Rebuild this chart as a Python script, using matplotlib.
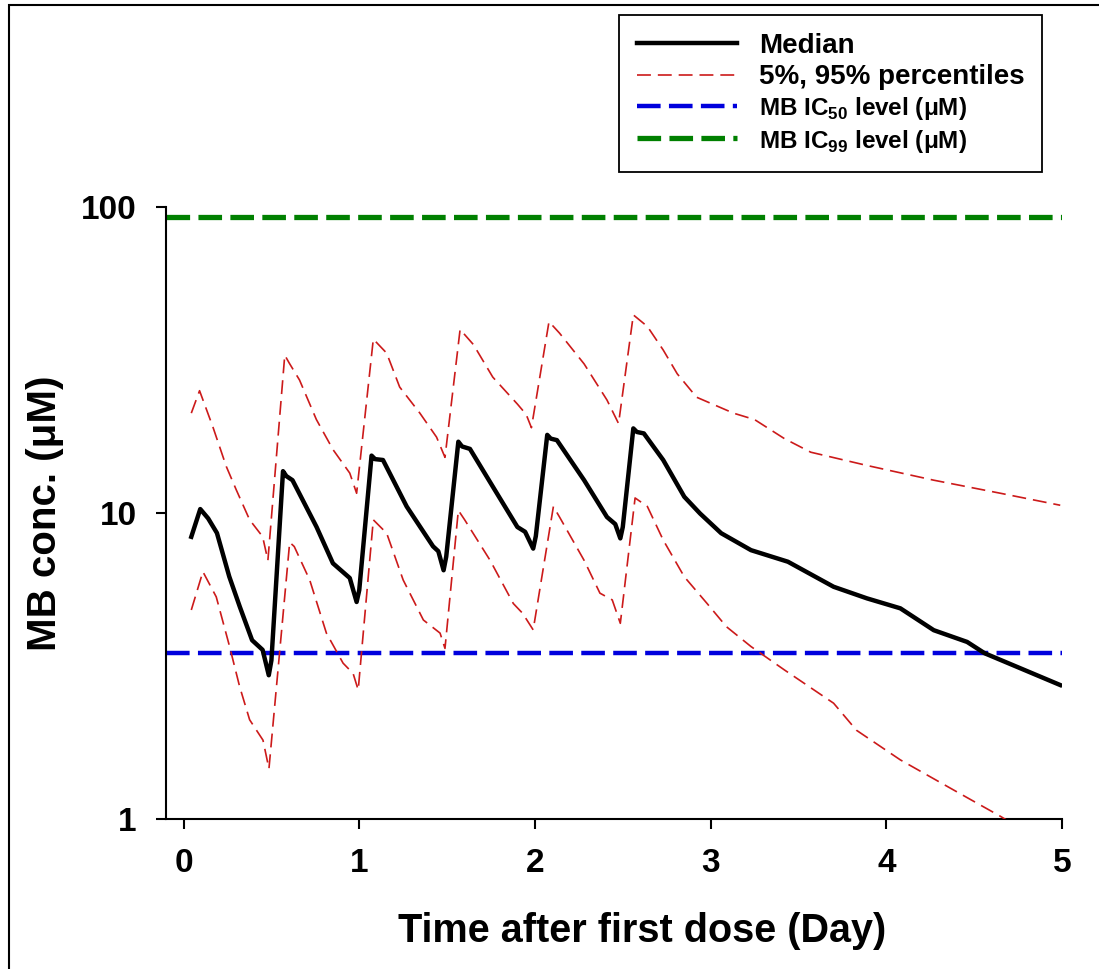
import numpy as np
import matplotlib
matplotlib.use("Agg")
import matplotlib.pyplot as plt
from matplotlib.patches import Rectangle

plt.rcParams['font.family'] = ['Liberation Sans', 'DejaVu Sans']
plt.rcParams['font.weight'] = 'bold'
plt.rcParams['mathtext.fontset'] = 'custom'
plt.rcParams['mathtext.rm'] = 'Liberation Sans:bold'
plt.rcParams['mathtext.bf'] = 'Liberation Sans:bold'
plt.rcParams['lines.scale_dashes'] = False

# median concentration (uM) vs time (day)
t_med = [0.044, 0.095, 0.14, 0.19, 0.26, 0.32, 0.39, 0.45, 0.485, 0.50, 0.566, 0.585, 0.62,
         0.757, 0.85, 0.946, 0.985, 1.0, 1.07, 1.09, 1.135, 1.27, 1.42, 1.45, 1.48, 1.495,
         1.564, 1.585, 1.63, 1.76, 1.90, 1.944, 1.99, 2.005, 2.07, 2.09, 2.125, 2.28, 2.41,
         2.457, 2.486, 2.50, 2.56, 2.58, 2.62, 2.73, 2.85, 2.94, 3.06, 3.23, 3.44, 3.70,
         3.89, 4.08, 4.27, 4.46, 4.56, 4.99]
c_med = [8.36, 10.3, 9.6, 8.6, 6.2, 4.94, 3.84, 3.57, 2.95, 3.3, 13.7, 13.2, 12.8,
         9.0, 6.85, 6.13, 5.12, 5.6, 15.4, 15.0, 14.9, 10.5, 7.78, 7.5, 6.5, 7.2,
         17.1, 16.5, 16.2, 12.2, 9.0, 8.68, 7.65, 8.4, 18.0, 17.5, 17.3, 12.8, 9.7,
         9.2, 8.26, 9.0, 18.9, 18.4, 18.2, 14.9, 11.3, 9.96, 8.59, 7.56, 6.93, 5.74,
         5.26, 4.88, 4.14, 3.79, 3.48, 2.74]

# 95th percentile
t_p95 = [0.044, 0.091, 0.167, 0.243, 0.30, 0.376, 0.45, 0.48, 0.576, 0.60, 0.66, 0.756,
         0.851, 0.946, 0.985, 1.08, 1.156, 1.23, 1.345, 1.44, 1.488, 1.574, 1.65, 1.76,
         1.90, 1.95, 1.98, 2.08, 2.14, 2.28, 2.41, 2.476, 2.56, 2.64, 2.73, 2.81, 2.92,
         3.13, 3.25, 3.42, 3.57, 3.89, 4.27, 4.65, 4.99]
c_p95 = [21.2, 25.1, 19.1, 14.2, 11.9, 9.5, 8.37, 7.0, 32.8, 31.0, 27.2, 20.2,
         16.1, 13.5, 11.6, 37.0, 33.3, 25.8, 21.2, 17.7, 15.2, 39.8, 35.5, 27.8,
         22.7, 21.0, 19.0, 42.2, 38.7, 30.7, 23.4, 19.6, 44.4, 40.7, 34.1, 28.5, 23.9,
         21.2, 20.2, 17.5, 15.8, 14.3, 12.8, 11.6, 10.6]

# 5th percentile
t_p05 = [0.044, 0.11, 0.186, 0.262, 0.319, 0.376, 0.452, 0.486, 0.604, 0.63, 0.718, 0.813,
         0.908, 0.965, 0.994, 1.08, 1.156, 1.25, 1.365, 1.46, 1.488, 1.564, 1.60, 1.745,
         1.877, 1.93, 1.99, 2.105, 2.14, 2.28, 2.37, 2.44, 2.486, 2.57, 2.64, 2.73, 2.85,
         2.98, 3.09, 3.23, 3.42, 3.70, 3.83, 4.08, 4.42, 4.65, 4.70]
c_p05 = [4.82, 6.43, 5.32, 3.66, 2.71, 2.11, 1.81, 1.46, 8.02, 7.77, 6.04, 4.05,
         3.23, 2.99, 2.64, 9.5, 8.59, 6.04, 4.47, 4.05, 3.61, 10.2, 9.5, 7.0,
         5.06, 4.7, 4.15, 10.5, 9.7, 7.0, 5.47, 5.2, 4.36, 11.2, 10.5, 8.16, 6.19,
         5.06, 4.25, 3.66, 3.07, 2.39, 1.95, 1.56, 1.21, 1.02, 0.98]

ic50 = 3.5
ic99 = 93.0

fig = plt.figure(figsize=(10.99, 9.69), dpi=100)
ax = fig.add_axes([166 / 1099, 1 - 819 / 969, (1062 - 166) / 1099, (819 - 207) / 969])

red = '#cc1a1a'
ax.plot(t_med, c_med, color='black', lw=3.2, solid_joinstyle='round', label='Median', zorder=4)
ax.plot(t_p95, c_p95, color=red, lw=1.2, dashes=(10, 5), label='5%, 95% percentiles', zorder=3)
ax.plot(t_p05, c_p05, color=red, lw=1.2, dashes=(10, 5), zorder=3)
ax.axhline(ic50, color='#0000dd', lw=3.2, dashes=(17, 6), label='MB IC$_{50}$ level (μM)', zorder=2)
ax.axhline(ic99, color='#008000', lw=3.8, dashes=(17, 6), label='MB IC$_{99}$ level (μM)', zorder=2)

ax.set_yscale('log')
ax.set_ylim(1, 100)
ax.set_xlim(-0.1, 5)
ax.set_yticks([1, 10, 100])
ax.set_yticklabels(['1', '10', '100'])
ax.yaxis.set_minor_locator(matplotlib.ticker.NullLocator())
ax.set_xticks([0, 1, 2, 3, 4, 5])

for s in ['top', 'right']:
    ax.spines[s].set_visible(False)
for s in ['left', 'bottom']:
    ax.spines[s].set_linewidth(1.5)
ax.tick_params(axis='both', direction='out', length=7, width=1.5, labelsize=24)
ax.tick_params(axis='x', pad=14)
ax.tick_params(axis='y', pad=14)

ax.set_xlabel('Time after first dose (Day)', fontsize=28.5, fontweight='bold', labelpad=24)
ax.xaxis.label.set_x(0.531)
ax.set_ylabel('MB conc. (μM)', fontsize=29, fontweight='bold', labelpad=12)

leg = ax.legend(loc='upper right', bbox_to_anchor=(1042 / 1099, 1 - 15 / 969),
                bbox_transform=fig.transFigure, borderaxespad=0, fancybox=False,
                framealpha=1, edgecolor='black', fontsize=19.5, handlelength=3.7,
                handletextpad=0.8, labelspacing=0.2, borderpad=0.65)
leg.get_frame().set_linewidth(1.3)
for txt, size in zip(leg.get_texts(), [20, 20, 17.5, 17.5]):
    txt.set_fontsize(size)

# outer frame around the whole figure
fig.patches.append(Rectangle((9 / 1099, -0.1), 1.2, 1.1 - 5 / 969, transform=fig.transFigure,
                             fill=False, edgecolor='black', lw=1.5))

fig.savefig('out.png', dpi=100)
